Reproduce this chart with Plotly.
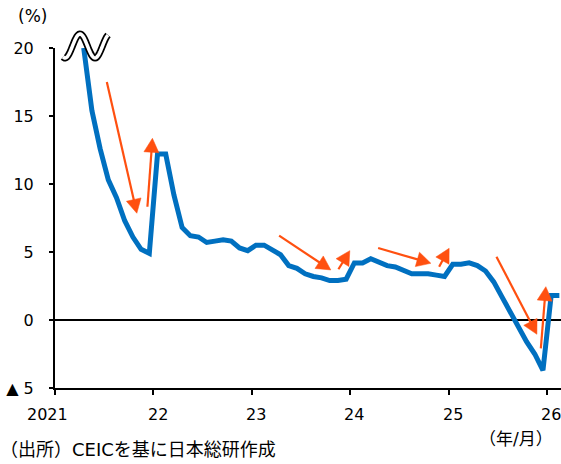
import numpy as np
import pandas as pd
import plotly.graph_objects as go

# Monthly series, Apr 2021 - Feb 2026 (% y/y)
months = [p.strftime("%Y-%m") for p in pd.period_range("2021-04", "2026-02", freq="M")]
values = [
    20.0, 15.4, 12.6, 10.3, 9.0, 7.3, 6.1, 5.2, 4.9,          # 2021 Apr-Dec
    12.2, 12.2, 9.2, 6.8, 6.2, 6.1, 5.7, 5.8, 5.9, 5.8, 5.3, 5.1,   # 2022
    5.5, 5.5, 5.1, 4.8, 4.0, 3.8, 3.4, 3.2, 3.1, 2.9, 2.9, 3.0,     # 2023
    4.2, 4.2, 4.5, 4.2, 4.0, 3.9, 3.6, 3.4, 3.4, 3.4, 3.3, 3.2,     # 2024
    4.1, 4.1, 4.2, 4.0, 3.6, 2.8, 1.7, 0.6, -0.5, -1.6, -2.5, -3.7, # 2025
    1.8, 1.8,                                                   # 2026 Jan-Feb
]

year_labels = ["2021", "22", "23", "24", "25", "26"]
year_starts = [0, 12, 24, 36, 48, 60]          # month index of each January
y_ticks = [-5, 0, 5, 10, 15, 20]
y_ticktext = ["▲ 5", "0", "5", "10", "15", "20"]

# trend arrows: (tail month, tail value, head month, head value)
trend_arrows = [
    (5.82, 17.5, 9.48, 7.85),
    (10.77, 8.33, 11.38, 13.36),
    (26.83, 6.2, 33.13, 3.68),
    (34.06, 3.73, 35.45, 5.1),
    (38.9, 5.29, 45.33, 4.17),
    (46.34, 3.92, 47.56, 5.27),
    (53.33, 4.65, 58.26, -1.05),
    (58.74, -2.08, 59.35, 2.45),
]

BLUE = "rgb(0,112,192)"
ORANGE = "rgb(255,80,16)"
TICK_FONT = dict(family="DejaVu Sans", size=16, color="black")
UNIT_FONT = dict(family="DejaVu Sans", size=17, color="black")
JP_FONT = dict(family="DejaVu Sans, Noto Sans CJK JP", size=17, color="black")
SRC_FONT = dict(family="DejaVu Sans, Noto Sans CJK JP", size=18, color="black")

# plot-area geometry (px) and axis ranges
L, T, W, H = 55, 48, 506, 340
X_RANGE = [-0.5, 61.2]
Y_RANGE = [-5, 20]
SX = W / (X_RANGE[1] - X_RANGE[0])   # px per month
SY = H / (Y_RANGE[1] - Y_RANGE[0])   # px per percentage point

def month_index(m):
    y, mo = m.split("-")
    return (int(y) - 2021) * 12 + int(mo) - 1

x = [month_index(m) for m in months]

fig = go.Figure()
fig.add_trace(go.Scatter(
    x=x, y=values, mode="lines",
    line=dict(color=BLUE, width=5),
    hoverinfo="skip", showlegend=False,
))

shapes = []

# arrows: a shaft plus a filled triangular head, sized in screen pixels
HEAD_LEN, HEAD_W = 14, 15
for tx, ty, hx, hy in trend_arrows:
    dx, dy = (hx - tx) * SX, (hy - ty) * SY
    n = np.hypot(dx, dy)
    ux, uy = dx / n, dy / n
    bx, by = hx - ux * HEAD_LEN / SX, hy - uy * HEAD_LEN / SY
    ox, oy = -uy * HEAD_W / 2 / SX, ux * HEAD_W / 2 / SY
    shapes.append(dict(type="line", xref="x", yref="y", x0=tx, y0=ty,
                       x1=bx + ux * 1 / SX, y1=by + uy * 1 / SY,
                       line=dict(color=ORANGE, width=2.2)))
    tri = f"M {hx},{hy} L {bx + ox},{by + oy} L {bx - ox},{by - oy} Z"
    shapes.append(dict(type="path", xref="x", yref="y", path=tri,
                       fillcolor=ORANGE, line=dict(color=ORANGE, width=0.5)))

annotations = []
for lbl, xs in zip(year_labels, year_starts):
    annotations.append(dict(
        x=xs, y=-0.079, xref="x", yref="paper", text=lbl, showarrow=False,
        xanchor="center", yanchor="middle", font=TICK_FONT,
        xshift=-11.6 if lbl == "2021" else 0,
    ))

annotations += [
    dict(x=-0.0435, y=1.094, xref="paper", yref="paper", text="(%)",
         showarrow=False, xanchor="center", yanchor="middle", font=UNIT_FONT),
    dict(x=0.912, y=-0.15, xref="paper", yref="paper", text="（年/月）",
         showarrow=False, xanchor="center", yanchor="middle", font=JP_FONT),
    dict(x=-0.1127, y=-0.182, xref="paper", yref="paper",
         text="（出所）CEICを基に日本総研作成",
         showarrow=False, xanchor="left", yanchor="middle", font=SRC_FONT),
]

# axis-break wave at the top of the value axis (paper coordinates)
px = np.linspace(63, 108, 60)
py = 46 - 12 * np.cos(2 * np.pi * (px - 80) / 30)
wx = (px - L) / W
wy = (T + H - py) / H
wave = "M " + " L ".join(f"{a:.5f},{b:.5f}" for a, b in zip(wx, wy))
shapes += [
    dict(type="path", path=wave, xref="paper", yref="paper",
         line=dict(color="black", width=7), layer="above"),
    dict(type="path", path=wave, xref="paper", yref="paper",
         line=dict(color="white", width=3.5), layer="above"),
]

fig.update_layout(
    width=561, height=464,
    margin=dict(l=L, r=561 - L - W, t=T, b=464 - T - H),
    paper_bgcolor="white", plot_bgcolor="white",
    annotations=annotations, shapes=shapes,
    xaxis=dict(
        range=X_RANGE, tickvals=[s - 0.5 for s in year_starts],
        showticklabels=False, ticks="outside", ticklen=5, tickwidth=2,
        tickcolor="black", showline=True, linecolor="black", linewidth=2,
        showgrid=False, zeroline=False, fixedrange=True,
    ),
    yaxis=dict(
        range=Y_RANGE, tickvals=y_ticks, ticktext=y_ticktext,
        ticks="outside", ticklen=4, tickwidth=2, tickcolor="black",
        showline=True, linecolor="black", linewidth=2, showgrid=False,
        zeroline=True, zerolinecolor="black", zerolinewidth=2,
        tickfont=TICK_FONT, ticklabelstandoff=12, fixedrange=True,
    ),
)

fig.write_html("out.html")
